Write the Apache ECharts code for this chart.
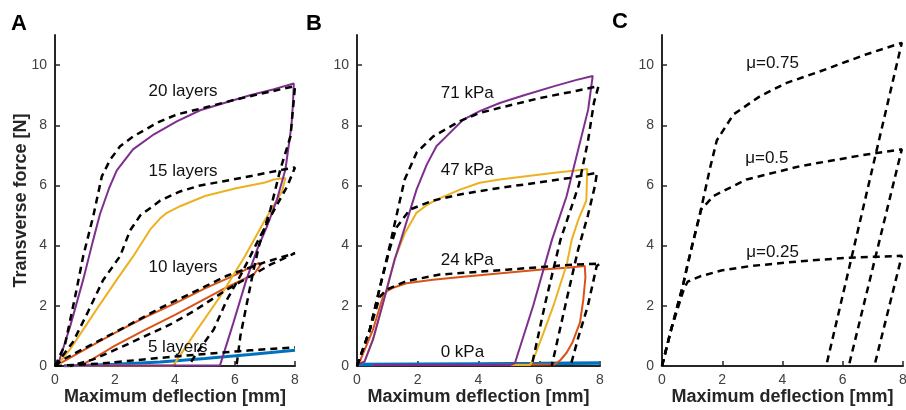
<!DOCTYPE html>
<html>
<head>
<meta charset="utf-8">
<script src="https://cdn.jsdelivr.net/npm/echarts@6/dist/echarts.min.js"></script>
<style>
html, body { margin: 0; padding: 0; background: #fff; }
#chart { width: 906px; height: 410px; }
</style>
</head>
<body>
<div id="chart"></div>
<script>
// tick values
var xTicks = [0, 2, 4, 6, 8];
var yTicks = [0, 2, 4, 6, 8, 10];

// panel A - experiment (solid) and model (dashed), [deflection, force]
var a20Exp = [[0.1,0.05],[0.5,1.3],[0.94,2.87],[1.25,4.1],[1.5,5.05],[1.8,5.9],[2.06,6.5],[2.6,7.2],[3.3,7.7],[4.06,8.13],[4.84,8.5],[5.5,8.7],[6.5,9.0],[7.3,9.2],[7.96,9.39],
  [7.93,8.7],[7.88,7.97],[7.68,6.53],[7.4,5.53],[7.05,4.6],[6.75,3.9],[6.38,2.87],[5.95,1.45],[5.5,0.02],[3,0.02],[0.3,0.02]];
var a15Exp = [[0.1,0.05],[0.5,0.55],[1,1.3],[1.5,2.05],[2.06,2.87],[2.61,3.65],[3.17,4.53],[3.5,4.9],[3.73,5.09],[4.17,5.31],[5,5.65],[6,5.9],[7,6.1],[7.3,6.2],[7.68,6.25],
  [7.57,5.81],[7.0,4.85],[6.3,3.6],[5.5,2.3],[4.7,1.15],[3.95,0.02],[2,0.02],[0.3,0.02]];
var a10Exp = [[0.2,0.1],[1,0.55],[2,1.1],[3,1.62],[4,2.08],[5,2.58],[6,3.02],[6.6,3.33],[6.8,3.43],[6.85,3.35],[6.63,3.05],[5.5,2.5],[4,1.7],[3,1.2],[2,0.68],[1.2,0.2],[0.84,0.02]];
var a5Exp = [[0.3,0],[2,0.06],[3.5,0.13],[5,0.25],[6.5,0.38],[8,0.52]];
var a20Model = [[0,0],[0.33,0.7],[0.67,2.3],[0.94,3.65],[1.28,5.0],[1.56,6.3],[1.84,6.86],[2.17,7.3],[2.61,7.63],[3.4,8.08],[4.06,8.36],[4.84,8.55],[6,8.85],[7,9.08],[8,9.3],
  [7.85,7.63],[7.51,6.53],[7.18,5.2],[6.8,4.0],[6.6,3.1],[6.4,2.1],[6.18,1.0],[6.05,0]];
var a15Model = [[0,0],[0.6,0.8],[1.1,1.8],[1.6,2.85],[2.17,3.65],[2.5,4.5],[2.84,5.0],[3.51,5.5],[4.17,5.8],[4.84,6.0],[5.95,6.2],[7.07,6.42],[8,6.6],
  [7.74,5.97],[7.07,4.76],[6.51,3.65],[6.18,3.0],[5.73,2.2],[5.29,1.21],[4.73,0.44],[4.45,0]];
var a10Model = [[0,0],[0.28,0.22],[1,0.6],[2.06,1.15],[3,1.65],[3.55,1.95],[4.5,2.4],[5.73,3.0],[7,3.45],[8,3.75],
  [7.18,3.37],[6.51,2.98],[5.73,2.54],[4.62,1.82],[3.84,1.38],[2.28,0.66],[1.28,0.22],[0.5,0]];
var a5Model = [[0,0],[1.5,0.08],[3.5,0.27],[5,0.4],[6.5,0.52],[8,0.62]];
var aLabels = ['20 layers', '15 layers', '10 layers', '5 layers'];
var aLabelAt = [[4.27,9.12],[4.27,6.48],[4.27,3.28],[4.09,0.63]];

// panel B
var b71Exp = [[0.05,0.05],[0.25,0.15],[0.53,0.89],[0.86,2.1],[1.24,3.54],[1.45,4.2],[1.96,5.86],[2.3,6.7],[2.62,7.31],[2.95,7.64],[3.5,8.19],[4.04,8.47],[4.7,8.74],[5.5,9.0],[6.5,9.3],[7.2,9.5],[7.76,9.64],
  [7.61,8.52],[6.9,5.64],[6.42,4.2],[5.8,2.0],[5.2,0.1],[5.04,0.03],[3,0.03],[0.5,0.03]];
var b47Exp = [[0.05,0.05],[0.25,0.15],[0.53,0.89],[0.86,2.1],[1.24,3.54],[1.57,4.4],[1.96,5.09],[2.3,5.35],[2.62,5.53],[3.39,5.86],[4.04,6.09],[4.7,6.2],[5.5,6.3],[6.5,6.42],[7.2,6.5],[7.58,6.55],
  [7.55,5.5],[7.3,4.9],[7.07,4.2],[6.91,3.4],[6.5,2.1],[6.14,1.1],[5.8,0.2],[5.69,0.03],[3,0.03],[0.5,0.03]];
var b24Exp = [[0.05,0.05],[0.09,0.11],[0.53,1.22],[0.86,2.32],[1.0,2.5],[1.19,2.6],[1.63,2.75],[2.5,2.87],[3.5,2.97],[4.92,3.1],[6,3.2],[7.0,3.27],[7.5,3.32],
  [7.52,2.95],[7.45,2.2],[7.34,1.44],[7.1,0.8],[6.9,0.44],[6.7,0.2],[6.52,0.06],[4,0.03],[1,0.03]];
var b0Exp = [[0,0.05],[2,0.06],[4,0.07],[6,0.08],[8,0.1]];
var b71Model = [[0,0],[0.42,1.2],[0.75,2.6],[1.08,4.0],[1.3,5.0],[1.57,6.2],[1.96,7.09],[2.51,7.63],[3.39,8.14],[4.04,8.41],[4.7,8.58],[6,8.9],[7,9.1],[7.95,9.3],
  [7.8,8.75],[7.6,7.45],[7.3,6.0],[6.7,4.2],[6.2,2.1],[5.75,0]];
var b47Model = [[0,0],[0.42,1.2],[0.75,2.6],[1.08,3.9],[1.3,4.6],[1.74,5.2],[2.51,5.5],[3.39,5.7],[4.04,5.81],[4.7,5.92],[6,6.1],[7,6.25],[7.9,6.42],
  [7.83,5.97],[7.6,5.0],[7.28,3.87],[6.9,2.2],[6.41,0]];
var b24Model = [[0,0],[0.42,1.2],[0.75,2.3],[0.97,2.54],[1.63,2.82],[2.73,3.04],[4.92,3.2],[7.12,3.37],[8,3.4],
  [7.89,3.32],[7.6,2.0],[7.3,1.0],[7.03,0]];
var bLabels = ['71 kPa', '47 kPa', '24 kPa', '0 kPa'];
var bLabelAt = [[3.63,9.05],[3.63,6.5],[3.63,3.52],[3.47,0.47]];

// panel C - model only
var c75Model = [[0,0],[0.3,1.2],[0.7,2.7],[0.83,3.3],[1.27,5.1],[1.6,6.6],[1.82,7.5],[2.37,8.36],[3.26,8.97],[4.14,9.41],[5.13,9.75],[6.79,10.36],[7.96,10.74],[5.45,0]];
var c50Model = [[0,0],[0.3,1.2],[0.7,2.7],[1.0,4.0],[1.3,5.2],[1.71,5.65],[2.81,6.2],[4.58,6.64],[6.79,7.03],[7.96,7.2],[6.2,0]];
var c25Model = [[0,0],[0.3,1.2],[0.72,2.54],[0.85,2.8],[1.27,2.98],[2,3.18],[2.92,3.32],[4.58,3.48],[6.23,3.6],[7.96,3.66],[7.05,0]];
var cLabels = ['\u03bc=0.75', '\u03bc=0.5', '\u03bc=0.25'];
var cLabelAt = [[3.67,10.05],[3.48,6.89],[3.67,3.79]];

var FONT = 'Arial, "Liberation Sans", Helvetica, sans-serif';
var AXIS = '#262626';
var purple = '#7E2F8E', yellow = '#EDB120', orange = '#D95319', blue = '#0072BD';

var myChart = echarts.init(document.getElementById('chart'));

function solid(data, color, idx, w) {
	return { type: 'line', xAxisIndex: idx, yAxisIndex: idx, data: data, showSymbol: false, symbol: 'none',
		lineStyle: { color: color, width: w || 2 }, silent: true };
}
function dashed(data, idx) {
	return { type: 'line', xAxisIndex: idx, yAxisIndex: idx, data: data, showSymbol: false, symbol: 'none',
		lineStyle: { color: '#000', width: 2.5, type: [7, 5] }, silent: true };
}
function labels(names, pos, idx) {
	var d = [];
	for (var i = 0; i < names.length; i++) {
		d.push([pos[i][0], pos[i][1], names[i]]);
	}
	return { type: 'scatter', xAxisIndex: idx, yAxisIndex: idx, data: d, symbolSize: 0, silent: true, z: 5,
		itemStyle: { color: '#111' },
		label: { show: true, position: 'inside', color: '#111', fontSize: 17, fontFamily: FONT,
			textBorderWidth: 0, opacity: 1,
			formatter: function (p) { return p.value[2]; } } };
}

// fixed plot boxes, no auto-shrinking for labels
var grids = [
	{ left: 55, top: 35, width: 240, height: 331, outerBoundsMode: 'none', containLabel: false },
	{ left: 357, top: 35, width: 243, height: 331, outerBoundsMode: 'none', containLabel: false },
	{ left: 662, top: 35, width: 241, height: 331, outerBoundsMode: 'none', containLabel: false }
];

var xAxes = [], yAxes = [];
for (var g = 0; g < 3; g++) {
	xAxes.push({
		type: 'value', gridIndex: g, min: 0, max: 8, interval: 2,
		name: 'Maximum deflection [mm]', nameLocation: 'middle', nameGap: 22, nameMoveOverlap: false,
		nameTextStyle: { fontWeight: 'bold', fontSize: 18, color: AXIS, fontFamily: FONT },
		axisLine: { lineStyle: { color: AXIS, width: 2 } },
		axisTick: { show: true, inside: true, length: 5, customValues: xTicks, lineStyle: { color: AXIS, width: 1.5 } },
		axisLabel: { color: '#404040', fontSize: 14, margin: 7, fontFamily: FONT, customValues: xTicks },
		splitLine: { show: false }
	});
	yAxes.push({
		type: 'value', gridIndex: g, min: 0, max: 11, interval: 2,
		name: g === 0 ? 'Transverse force [N]' : '', nameLocation: 'middle', nameGap: 25, nameMoveOverlap: false,
		nameTextStyle: { fontWeight: 'bold', fontSize: 18, color: AXIS, fontFamily: FONT },
		axisLine: { show: true, lineStyle: { color: AXIS, width: 2 } },
		axisTick: { show: true, inside: true, length: 5, customValues: yTicks, lineStyle: { color: AXIS, width: 1.5 } },
		axisLabel: { color: '#404040', fontSize: 14, margin: 8, fontFamily: FONT, customValues: yTicks },
		splitLine: { show: false }
	});
}

var option = {
	animation: false,
	backgroundColor: '#fff',
	grid: grids,
	xAxis: xAxes,
	yAxis: yAxes,
	graphic: [
		{ type: 'text', left: 11, top: 13, style: { text: 'A', font: 'bold 22px ' + FONT, fill: '#000' } },
		{ type: 'text', left: 306, top: 13, style: { text: 'B', font: 'bold 22px ' + FONT, fill: '#000' } },
		{ type: 'text', left: 612, top: 11, style: { text: 'C', font: 'bold 22px ' + FONT, fill: '#000' } }
	],
	series: [
		solid(a5Exp, blue, 0, 3),
		solid(a10Exp, orange, 0),
		solid(a15Exp, yellow, 0),
		solid(a20Exp, purple, 0),
		dashed(a5Model, 0),
		dashed(a10Model, 0),
		dashed(a15Model, 0),
		dashed(a20Model, 0),
		labels(aLabels, aLabelAt, 0),

		solid(b0Exp, blue, 1, 3.5),
		solid(b24Exp, orange, 1),
		solid(b47Exp, yellow, 1),
		solid(b71Exp, purple, 1),
		dashed(b24Model, 1),
		dashed(b47Model, 1),
		dashed(b71Model, 1),
		labels(bLabels, bLabelAt, 1),

		dashed(c25Model, 2),
		dashed(c50Model, 2),
		dashed(c75Model, 2),
		labels(cLabels, cLabelAt, 2)
	]
};
myChart.setOption(option);
</script>
</body>
</html>
